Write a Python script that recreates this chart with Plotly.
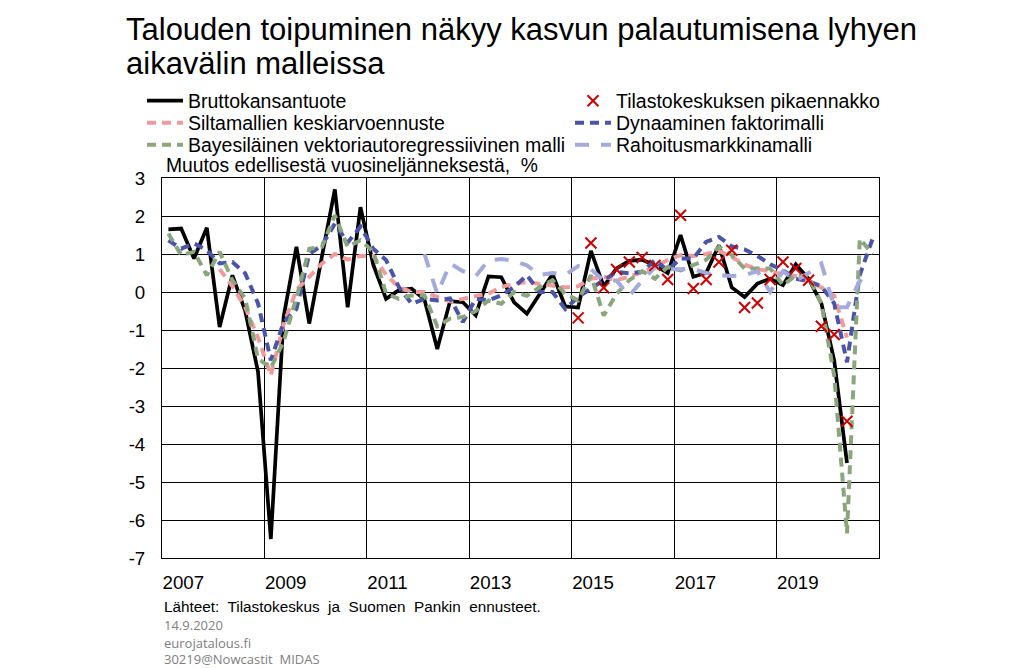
import plotly.graph_objects as go

# Quarters 2007Q1 .. 2020Q4
start_year = 2007
n_quarters = 56
quarters = [start_year + i / 4 + 0.125 for i in range(n_quarters)]

N = None

gdp = [1.65, 1.67, 0.88, 1.69, -0.92, 0.44, -0.5, -2.1, -6.5, -0.65,
       1.19, -0.83, 0.95, 2.7, -0.4, 2.23, 0.72, -0.18, 0.05, 0.09,
       -0.2, -1.5, -0.24, -0.27, -0.61, 0.41, 0.39, -0.27, -0.57, -0.05,
       0.47, -0.38, -0.41, 1.08, 0.15, 0.62, 0.82, 0.85, 0.7, 0.5,
       1.5, 0.4, 0.5, 1.23, 0.12, -0.13, 0.22, 0.35, 0.18, 0.73,
       0.35, -0.3, -1.8, -4.5, N, N]

flash = [N] * 32 + [-0.68, 1.29, 0.11, 0.59, 0.79, 0.91, 0.7, 0.33, 2.02, 0.09,
                    0.33, 0.79, 1.1, -0.41, -0.29, 0.33, 0.79, 0.62, 0.31, -0.9,
                    -1.12, -3.4, N, N]

bridge = [N, N, N, N, 0.6, 0.15, -0.4, -1.2, -2.2, -0.85,
          0.05, 0.4, 0.75, 1.0, 0.85, 0.95, 0.95, 0.45, 0.13, 0.0,
          0.0, -0.13, -0.25, -0.18, -0.1, -0.04, 0.13, 0.22, 0.26, 0.22,
          0.18, 0.12, 0.15, 0.35, 0.4, 0.31, 0.4, 0.53, 0.66, 0.84,
          0.97, 0.95, 1.0, 1.08, 0.92, 0.72, 0.6, 0.55, 0.46, 0.42,
          0.3, 0.12, -0.1, -1.2, N, N]

dfm = [1.36, 1.14, 1.28, 1.1, 0.75, 0.79, 0.49, -0.3, -1.8, -0.8,
       -0.45, 1.0, 1.23, 1.8, 1.3, 1.72, 1.14, 0.84, 0.13, -0.31,
       -0.18, -0.22, -0.17, -0.79, -0.18, -0.22, -0.09, 0.13, 0.44, 0.0,
       0.0, -0.45, -0.13, 0.09, 0.31, 0.53, 0.49, 0.53, 0.84, 0.57,
       0.88, 0.88, 1.32, 1.45, 1.2, 1.12, 0.95, 0.73, 0.57, 0.35,
       0.28, 0.15, -0.3, -1.85, 0.45, 1.4]

bvar = [1.54, 0.97, 1.06, 0.44, 1.06, 0.31, -0.17, -1.75, -2.0, -1.3,
        -0.15, 1.14, 1.19, 2.02, 1.19, 1.36, 1.06, -0.04, -0.18, -0.09,
        -0.09, -0.9, -0.7, -0.66, -0.5, -0.22, -0.31, 0.0, -0.1, 0.13,
        0.31, -0.05, -0.22, 0.44, -0.62, -0.05, 0.31, 0.55, 0.35, 0.66,
        0.57, 0.7, 0.85, 1.19, 0.97, 0.62, 0.62, 0.62, 0.18, 0.44,
        0.4, -0.3, -2.2, -6.35, 1.4, 1.0]

finmkt = [N] * 20 + [1.0, -0.05, 0.75, 0.55, 0.42, 0.83, 0.87, 0.82, 0.7, 0.45,
                     0.5, 0.45, 0.68, 0.6, 0.3, 0.3, -0.1, 0.3, 0.65, 0.6,
                     0.6, 0.6, 0.5, 0.44, 0.42, 0.44, 0.55, 0.0, 0.55, 0.3,
                     0.5, 0.75, -0.4, -0.4, 0.3, 0.1]

year_ticks = [2007, 2009, 2011, 2013, 2015, 2017, 2019]
y_ticks = [3, 2, 1, 0, -1, -2, -3, -4, -5, -6, -7]

FONT = "Liberation Sans, Arial, sans-serif"
FOOT_FONT = "Open Sans, sans-serif"

# plot area in pixels
L, R, T, B = 162, 879, 178, 558
PW, PH = R - L, B - T


def px_x(px):
    return (px - L) / PW


def px_y(py):
    return (B - py) / PH


fig = go.Figure()

fig.add_trace(go.Scatter(x=quarters, y=gdp, mode="lines", name="Bruttokansantuote",
                         line=dict(color="black", width=3.7), legend="legend"))
fig.add_trace(go.Scatter(x=quarters, y=bridge, mode="lines", name="Siltamallien keskiarvoennuste",
                         line=dict(color="#F2999B", width=4, dash="9px,6px"), legend="legend2"))
fig.add_trace(go.Scatter(x=quarters, y=dfm, mode="lines", name="Dynaaminen faktorimalli",
                         line=dict(color="#4B55A8", width=4, dash="9px,6px"), legend="legend2"))
fig.add_trace(go.Scatter(x=quarters, y=bvar, mode="lines",
                         name="Bayesiläinen vektoriautoregressiivinen malli",
                         line=dict(color="#8BA67D", width=4, dash="9px,6px"), legend="legend3"))
fig.add_trace(go.Scatter(x=quarters, y=finmkt, mode="lines", name="Rahoitusmarkkinamalli",
                         line=dict(color="#A4AADB", width=4, dash="14px,12px"), legend="legend3"))
fig.add_trace(go.Scatter(x=quarters, y=flash, mode="markers", name="Tilastokeskuksen pikaennakko",
                         marker=dict(symbol="x-thin", size=11, color="#D00000",
                                     line=dict(width=2, color="#D00000")), legend="legend"))

leg_common = dict(orientation="h", xanchor="left", yanchor="middle",
                  entrywidth=377, entrywidthmode="pixels",
                  font=dict(family=FONT, size=19.5, color="black"),
                  bgcolor="rgba(0,0,0,0)", itemwidth=36, traceorder="normal")

annotations = [
    dict(text="Talouden toipuminen näkyy kasvun palautumisena lyhyen", x=px_x(124), y=px_y(30)),
    dict(text="aikavälin malleissa", x=px_x(124), y=px_y(63)),
]
for a in annotations:
    a.update(xref="paper", yref="paper", xanchor="left", yanchor="middle", showarrow=False,
             font=dict(family=FONT, size=31, color="black"))

annotations.append(dict(text="Muutos edellisestä vuosineljänneksestä,  %", x=px_x(164), y=px_y(166),
                        xref="paper", yref="paper", xanchor="left", yanchor="middle",
                        showarrow=False, font=dict(family=FONT, size=19.3, color="black")))
annotations.append(dict(text="Lähteet:  Tilastokeskus  ja  Suomen  Pankin  ennusteet.",
                        x=px_x(162), y=px_y(606), xref="paper", yref="paper",
                        xanchor="left", yanchor="middle", showarrow=False,
                        font=dict(family=FONT, size=15.3, color="black")))
for txt, py in [("14.9.2020", 625), ("eurojatalous.fi", 643), ("30219@Nowcastit  MIDAS", 659)]:
    annotations.append(dict(text=txt, x=px_x(162), y=px_y(py), xref="paper", yref="paper",
                            xanchor="left", yanchor="middle", showarrow=False,
                            font=dict(family=FOOT_FONT, size=13, color="#808080")))

fig.update_layout(
    width=1024, height=668,
    paper_bgcolor="white", plot_bgcolor="white",
    margin=dict(l=L, r=1024 - R, t=T, b=668 - B),
    font=dict(family=FONT, size=18, color="black"),
    showlegend=True,
    legend=dict(x=px_x(142), y=px_y(101), **leg_common),
    legend2=dict(x=px_x(142), y=px_y(123), **leg_common),
    legend3=dict(x=px_x(142), y=px_y(145), **leg_common),
    xaxis=dict(range=[2007, 2021], tickvals=year_ticks, ticktext=[str(y) for y in year_ticks],
               showgrid=True, gridcolor="black", gridwidth=1,
               showline=True, mirror=True, linecolor="black", linewidth=1,
               zeroline=False, ticks="", ticklabelposition="outside right",
               ticklabelstandoff=8, tickfont=dict(family=FONT, size=18.7)),
    yaxis=dict(range=[-7, 3], tickvals=y_ticks, ticktext=[str(v) for v in y_ticks],
               showgrid=True, gridcolor="black", gridwidth=1,
               showline=True, mirror=True, linecolor="black", linewidth=1,
               zeroline=False, ticks="", ticklabelstandoff=12, tickfont=dict(family=FONT, size=18.7)),
    annotations=annotations,
)

fig.write_html("out.html", config={"displayModeBar": False},
               post_script="document.body.style.margin='0px';")
